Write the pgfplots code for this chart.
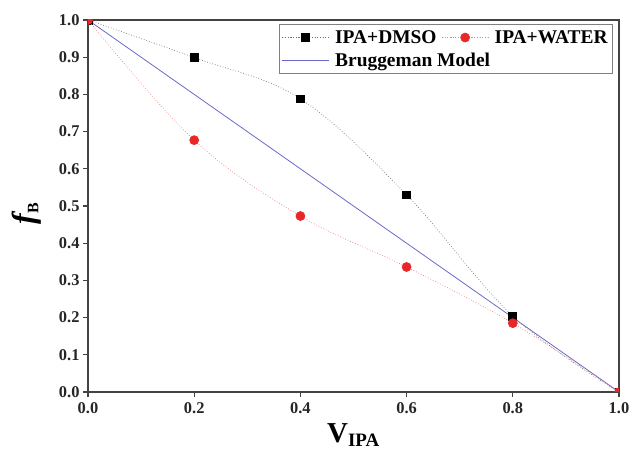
\documentclass[border=0pt]{standalone}
\usepackage{pgfplots}
\pgfplotsset{compat=1.18}
\usepackage{fontspec}
\setmainfont{Liberation Serif}
\definecolor{axisgray}{RGB}{70,66,66}
\definecolor{brug}{RGB}{105,105,200}
\definecolor{wred}{RGB}{232,40,40}
\begin{document}
\begin{tikzpicture}
\begin{axis}[
  scale only axis,
  width=531bp, height=372bp,
  xmin=0, xmax=1, ymin=0, ymax=1,
  xtick={0,0.2,0.4,0.6,0.8,1.0},
  ytick={0,0.1,0.2,0.3,0.4,0.5,0.6,0.7,0.8,0.9,1.0},
  axis line style={axisgray, line width=1.4pt},
  tick style={axisgray, line width=1.2pt},
  tick align=outside,
  major tick length=5bp,
  xtick pos=bottom, ytick pos=left,
  /pgf/number format/assume math mode=true,
  /pgf/number format/fixed,
  /pgf/number format/fixed zerofill,
  /pgf/number format/precision=1,
  tick label style={font=\fontsize{16.5}{18}\selectfont\bfseries, text=black!85},
  xticklabel style={yshift=-2bp},
  xlabel={\fontsize{29}{30}\selectfont\bfseries V\textsubscript{\fontsize{19}{20}\selectfont IPA}},
  xlabel style={yshift=-3bp},
  ylabel={\fontsize{32}{32}\selectfont\bfseries\itshape f\textsubscript{\upshape\fontsize{16}{17}\selectfont B}},
  ylabel style={at={(axis description cs:-0.115,0.48)}, anchor=center},
  legend columns=2,
  legend style={at={(axis description cs:0.9887,0.9893)}, anchor=north east,
    draw=gray, line width=0.8pt, font=\fontsize{19.5}{21}\selectfont\bfseries,
    inner xsep=3bp, inner ysep=4bp,
    /tikz/every odd column/.style={column sep=4bp},
    /tikz/every even column/.style={column sep=3bp},
    row sep=4bp},
  legend cell align=left,
  clip=true, clip marker paths=true,
]
\addplot[brug, line width=0.8pt, forget plot] coordinates {(0,1) (1,0)};
\addplot[black!55, dotted, line width=0.7pt, smooth, tension=0.6,
  mark=square*, mark size=4pt, mark options={solid, fill=black, draw=black},
  legend image code/.code={\draw[mark repeat=2,mark phase=2] plot coordinates {(0cm,0cm) (0.82cm,0cm) (1.64cm,0cm)};}]
  coordinates {(0,1) (0.2,0.899) (0.4,0.788) (0.6,0.530) (0.8,0.204) (1,0)};
\addlegendentry{IPA+DMSO}
\addplot[wred!60, dotted, line width=0.7pt, smooth, tension=0.6,
  mark=*, mark size=4.5pt, mark options={solid, fill=wred, draw=wred},
  legend image code/.code={\draw[mark repeat=2,mark phase=2] plot coordinates {(0cm,0cm) (0.82cm,0cm) (1.64cm,0cm)};}]
  coordinates {(0,1) (0.2,0.677) (0.4,0.473) (0.6,0.336) (0.8,0.185) (1,0)};
\addlegendentry{IPA+WATER}
\addlegendimage{brug, line width=0.8pt, legend image code/.code={\draw[brug, line width=0.8pt] (0cm,0cm) -- (1.64cm,0cm);}}
\addlegendentry{\makebox[0pt][l]{Bruggeman Model}}
\end{axis}
\pgfresetboundingbox
\path (current axis.south west) ++(-88bp,-58bp) rectangle ++(632bp,450bp);
\end{tikzpicture}
\end{document}
